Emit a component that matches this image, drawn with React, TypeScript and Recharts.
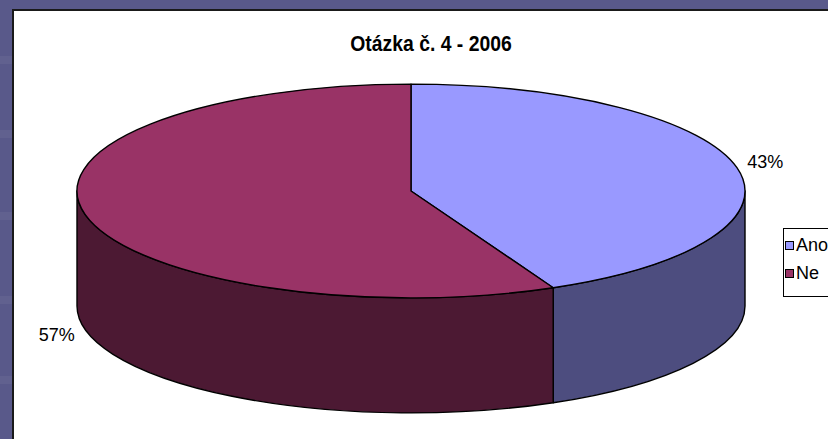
import React from 'react';
import { PieChart, Pie, Legend } from 'recharts';

const categories = ['Ano', 'Ne'];
const shares = [43, 57];
const topColors = ['#9999FF', '#993366'];
const sideColors = ['#4D4D7F', '#4C1933'];
const title = 'Otázka č. 4 - 2006';

const data = categories.map((name, i) => ({ name, value: shares[i], fill: topColors[i], side: sideColors[i] }));

// 3D look: ellipse squash and wall height
const TILT = 0.32;
const DEPTH = 115;
const RAD = Math.PI / 180;
const FONT = '"Liberation Sans", Arial, sans-serif';

const pt = (cx: number, cy: number, rx: number, ry: number, a: number) =>
  [cx + rx * Math.cos(a * RAD), cy - ry * Math.sin(a * RAD)];

const Slice3D = (props: any) => {
  const { cx, cy, outerRadius, startAngle, endAngle, fill } = props;
  const side = props.side ?? props.payload?.side ?? '#333';
  const rx = outerRadius;
  const ry = outerRadius * TILT;
  const hi = Math.max(startAngle, endAngle);
  const lo = Math.min(startAngle, endAngle);

  // front half of the ellipse is where sin < 0
  const walls: number[][] = [];
  for (let k = -1; k <= 1; k++) {
    const h = Math.min(hi, -360 * k);
    const l = Math.max(lo, -180 - 360 * k);
    if (h > l) walls.push([l, h]);
  }

  const [x1, y1] = pt(cx, cy, rx, ry, hi);
  const [x2, y2] = pt(cx, cy, rx, ry, lo);
  const large = hi - lo > 180 ? 1 : 0;
  const top = `M${cx},${cy} L${x1},${y1} A${rx},${ry} 0 ${large} 1 ${x2},${y2} Z`;

  return (
    <g>
      {walls.map(([l, h], i) => {
        const [ax, ay] = pt(cx, cy, rx, ry, h);
        const [bx, by] = pt(cx, cy, rx, ry, l);
        const d = `M${ax},${ay} A${rx},${ry} 0 0 1 ${bx},${by} L${bx},${by + DEPTH} A${rx},${ry} 0 0 0 ${ax},${ay + DEPTH} Z`;
        return <path key={i} d={d} fill={side} stroke="#000" strokeWidth={1.4} strokeLinejoin="round" />;
      })}
      <path d={top} fill={fill} stroke="#000" strokeWidth={1.4} strokeLinejoin="round" />
    </g>
  );
};

const renderLabel = (p: any) => {
  const { cx, cy, midAngle, outerRadius, percent } = p;
  const s = Math.sin(midAngle * RAD);
  const x = cx + (outerRadius + 29) * Math.cos(midAngle * RAD);
  const y = cy - (outerRadius * TILT + 26) * s + (s < 0 ? DEPTH : 0);
  return (
    <text x={x} y={y} textAnchor="middle" dominantBaseline="central" fill="#000"
      style={{ fontFamily: FONT, fontSize: 18 }}>
      {`${Math.round(percent * 100)}%`}
    </text>
  );
};

const LegendBox = (props: any) => {
  const items = props.payload && props.payload.length
    ? props.payload.map((e: any) => ({ label: e.value, color: e.color }))
    : categories.map((c, i) => ({ label: c, color: topColors[i] }));
  return (
    <div style={{ border: '1px solid #000', background: '#fff', width: 60, height: 69, boxSizing: 'border-box', paddingTop: 2, fontFamily: FONT, fontSize: 18 }}>
      {items.map((it: any) => (
        <div key={it.label} style={{ display: 'flex', alignItems: 'center', height: 28, paddingLeft: 1, whiteSpace: 'nowrap' }}>
          <span style={{ display: 'inline-block', width: 7, height: 7, border: '1px solid #000', background: it.color, marginRight: 2, flexShrink: 0 }} />
          <span>{it.label}</span>
        </div>
      ))}
    </div>
  );
};

const bands = [56, 130, 212, 296, 376];

export default function App() {
  return (
    <div style={{ position: 'absolute', left: 0, top: 0, width: 828, height: 439, overflow: 'hidden', background: '#59598A' }}>
      {bands.map((y) => (
        <div key={y} style={{ position: 'absolute', left: 0, top: y, width: 828, height: 8, background: 'rgba(255,255,255,0.05)' }} />
      ))}
      <div style={{ position: 'absolute', left: 12, top: 9, width: 900, height: 500, background: '#fff', borderLeft: '2px solid #1a1a1a', borderTop: '2px solid #1a1a1a' }} />
      <div style={{ position: 'absolute', left: 0, top: 0 }}>
        <PieChart width={828} height={439} margin={{ top: 0, right: 0, bottom: 0, left: 0 }}>
          <Pie
            data={data}
            dataKey="value"
            nameKey="name"
            cx={411}
            cy={191}
            outerRadius={334}
            startAngle={90}
            endAngle={-270}
            shape={Slice3D}
            label={renderLabel}
            labelLine={false}
            isAnimationActive={false}
          />
          <Legend
            layout="vertical"
            align="right"
            verticalAlign="middle"
            content={LegendBox}
            wrapperStyle={{ left: 783, top: 228, width: 60 }}
          />
        </PieChart>
      </div>
      <div style={{ position: 'absolute', left: 331, top: 33, width: 200, textAlign: 'center', fontFamily: FONT, fontWeight: 'bold', fontSize: 22, lineHeight: '22px', color: '#000', whiteSpace: 'nowrap', transform: 'scaleX(0.88)' }}>
        {title}
      </div>
    </div>
  );
}
